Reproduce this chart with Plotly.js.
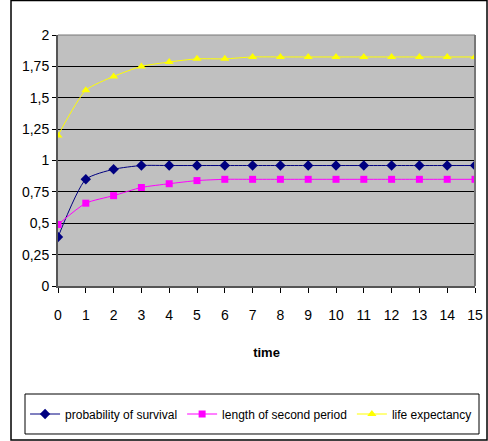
<!DOCTYPE html>
<html>
<head>
<meta charset="utf-8">
<script src="https://cdn.plot.ly/plotly-3.0.1.min.js"></script>
<style>html,body{margin:0;padding:0;background:#fff;}#chart{width:488px;height:441px;}</style>
</head>
<body>
<div id="chart"></div>
<script>
const time = [0,1,2,3,4,5,6,7,8,9,10,11,12,13,14,15];
const survival = [0.39,0.85,0.93,0.96,0.96,0.96,0.96,0.96,0.96,0.96,0.96,0.96,0.96,0.96,0.96,0.96];
const secondPeriod = [0.49,0.66,0.72,0.785,0.815,0.84,0.85,0.85,0.85,0.85,0.85,0.85,0.85,0.85,0.85,0.85];
const lifeExpectancy = [1.2,1.56,1.67,1.75,1.785,1.81,1.81,1.825,1.825,1.825,1.825,1.825,1.825,1.825,1.825,1.825];
const yTickVals = [0,0.25,0.5,0.75,1,1.25,1.5,1.75,2];
const yTickText = ['0','0,25','0,5','0,75','1','1,25','1,5','1,75','2'];
const seriesNames = ['probability of survival','length of second period','life expectancy'];

const font = 'Liberation Sans, Arial, sans-serif';
const traces = [
  {x: time, y: survival, name: seriesNames[0], mode: 'lines+markers',
   line: {color: '#000080', width: 1, shape: 'spline', smoothing: 0.6},
   marker: {symbol: 'diamond', color: '#000080', size: 8}},
  {x: time, y: secondPeriod, name: seriesNames[1], mode: 'lines+markers',
   line: {color: '#FF00FF', width: 1, shape: 'spline', smoothing: 0.6},
   marker: {symbol: 'square', color: '#FF00FF', size: 7}},
  {x: time, y: lifeExpectancy, name: seriesNames[2], mode: 'lines+markers',
   line: {color: '#FFFF00', width: 1, shape: 'spline', smoothing: 0.6},
   marker: {symbol: 'triangle-up', color: '#FFFF00', size: 8}}
];

const layout = {
  width: 488, height: 441,
  margin: {l: 58, r: 13, t: 35, b: 155},
  paper_bgcolor: '#ffffff',
  plot_bgcolor: '#C0C0C0',
  font: {family: font, size: 14, color: '#000'},
  showlegend: true,
  xaxis: {
    range: [0, 15], tickvals: time, ticks: 'outside', ticklen: 5, tickcolor: '#000',
    showgrid: false, zeroline: false, showline: true, linecolor: '#555', linewidth: 2,
    tickfont: {family: font, size: 14}, ticklabelstandoff: 10,
    title: {text: '<b>time</b>', font: {family: font, size: 13}, standoff: 26}
  },
  yaxis: {
    range: [0, 2], tickvals: yTickVals, ticktext: yTickText, ticks: 'outside', ticklen: 4, tickcolor: '#000',
    showgrid: true, gridcolor: '#000', gridwidth: 1, zeroline: false,
    showline: true, linecolor: '#555', linewidth: 2, mirror: false,
    tickfont: {family: font, size: 14}
  },
  legend: {
    orientation: 'h', x: -0.079, y: -0.51, xanchor: 'left', yanchor: 'middle',
    borderwidth: 0, bgcolor: 'rgba(0,0,0,0)',
    font: {family: font, size: 12}, itemwidth: 30, tracegroupgap: 0
  },
  shapes: [
    {type: 'rect', xref: 'paper', yref: 'paper', x0: -0.1127, x1: 1.0288, y0: -0.6135, y1: 1.137,
     line: {color: '#000', width: 1.5}, fillcolor: 'rgba(0,0,0,0)', layer: 'below'},
    {type: 'rect', xref: 'paper', yref: 'paper', x0: -0.0791, x1: 1.0096, y0: -0.5896, y1: -0.4303,
     line: {color: '#000', width: 1}, fillcolor: 'rgba(0,0,0,0)', layer: 'below'},
    {type: 'line', xref: 'paper', yref: 'paper', x0: 1, x1: 1, y0: 0, y1: 1,
     line: {color: '#777', width: 2}},
    {type: 'line', xref: 'paper', yref: 'paper', x0: 0, x1: 1, y0: 1, y1: 1,
     line: {color: '#777', width: 1}}
  ]
};

Plotly.newPlot('chart', traces, layout, {displayModeBar: false, staticPlot: true});
</script>
</body>
</html>
